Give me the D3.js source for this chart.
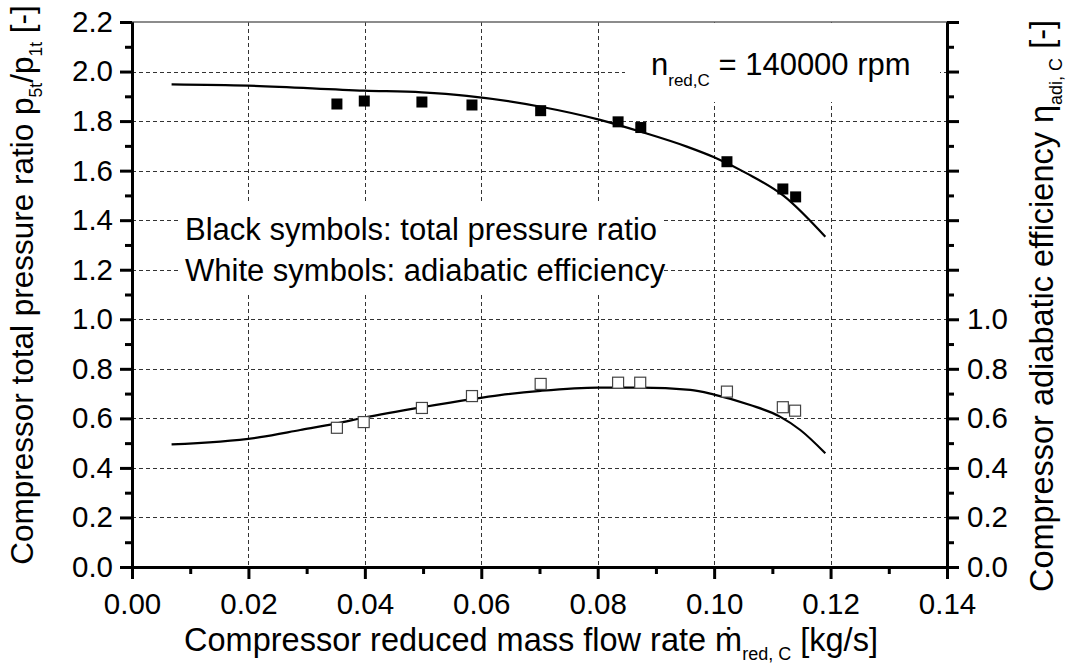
<!DOCTYPE html>
<html><head><meta charset="utf-8">
<script src="https://cdn.jsdelivr.net/npm/d3@7"></script>
<style>
html,body{margin:0;padding:0;background:#fff;}
svg{display:block;}
text{font-family:"Liberation Sans",Arial,sans-serif;fill:#000;}
</style></head>
<body>
<svg id="chart" width="1070" height="666"></svg>
<script>
// ---- data ----
const prMassFlow = [0.0352,0.0399,0.0498,0.0584,0.0702,0.0835,0.0874,0.1022,0.1118,0.1140];
const prValues   = [1.869,1.881,1.877,1.865,1.842,1.797,1.774,1.636,1.526,1.494];
const effMassFlow = [0.0352,0.0398,0.0498,0.0584,0.0702,0.0835,0.0873,0.1022,0.1118,0.1139];
const effValues   = [0.562,0.585,0.642,0.690,0.739,0.744,0.744,0.708,0.645,0.631];
const prFitX = [0.0068,0.0199,0.0399,0.0498,0.0575,0.0702,0.0804,0.0874,0.0953,0.1000,0.1056,0.1119,0.1191];
const prFitY = [1.948,1.943,1.923,1.916,1.902,1.858,1.805,1.757,1.697,1.654,1.589,1.499,1.333];
const effFitX = [0.0068,0.022,0.0289,0.0352,0.0399,0.0498,0.0584,0.0632,0.0702,0.080,0.0874,0.0959,0.100,0.1062,0.1113,0.1148,0.1191];
const effFitY = [0.495,0.524,0.553,0.580,0.603,0.645,0.678,0.694,0.711,0.724,0.724,0.715,0.696,0.654,0.607,0.553,0.459];
const xTicks = [0,0.02,0.04,0.06,0.08,0.10,0.12,0.14];
const xMinor = [0.01,0.03,0.05,0.07,0.09,0.11,0.13];
const yTicks = [0,0.2,0.4,0.6,0.8,1.0,1.2,1.4,1.6,1.8,2.0,2.2];
const yMinor = [0.1,0.3,0.5,0.7,0.9,1.1,1.3,1.5,1.7,1.9,2.1];
const yRightLabelled = [0,0.2,0.4,0.6,0.8,1.0];

// ---- layout ----
const L=132, R=947, T=22, B=567;
const svg = d3.select("#chart");
const x = d3.scaleLinear().domain([0,0.14]).range([L,R]);
const y = d3.scaleLinear().domain([0,2.2]).range([B,T]);
const y2 = d3.scaleLinear().domain([0,2.2]).range([B,T]);

// gridlines
const grid = svg.append("g").attr("stroke","#333").attr("stroke-width",1).attr("stroke-dasharray","4,3");
grid.selectAll("line.v").data(xTicks.slice(1,-1)).join("line")
  .attr("x1",d=>Math.round(x(d))+0.5).attr("x2",d=>Math.round(x(d))+0.5).attr("y1",T).attr("y2",B);
grid.selectAll("line.h").data(yTicks.slice(1,-1)).join("line")
  .attr("x1",L).attr("x2",R).attr("y1",d=>Math.round(y(d))+0.5).attr("y2",d=>Math.round(y(d))+0.5);

// white boxes behind text
svg.append("rect").attr("x",180).attr("y",204).attr("width",484).attr("height",89).attr("fill","#fff");
svg.append("rect").attr("x",625).attr("y",T+1).attr("width",315).attr("height",79).attr("fill","#fff");

// top frame
svg.append("line").attr("x1",L).attr("x2",R).attr("y1",T).attr("y2",T).attr("stroke","#666").attr("stroke-width",1.5);

// axes
function styleAxis(g){ g.selectAll("path.domain").attr("stroke","#000").attr("stroke-width",3);
  g.selectAll(".tick line").attr("stroke","#000").attr("stroke-width",3);
  g.selectAll(".tick text").style("font-size","29.5px").style("font-family","'Liberation Sans',Arial,sans-serif");}

const gl = svg.append("g").attr("transform",`translate(${L},0)`);
gl.call(d3.axisLeft(y).tickValues(yTicks).tickSize(12).tickSizeOuter(0).tickPadding(7).tickFormat(d3.format(".1f")));
styleAxis(gl);
const glm = svg.append("g").attr("transform",`translate(${L},0)`);
glm.call(d3.axisLeft(y).tickValues(yMinor).tickSize(7).tickSizeOuter(0).tickFormat(""));
styleAxis(glm);

const gr = svg.append("g").attr("transform",`translate(${R},0)`);
gr.call(d3.axisRight(y2).tickValues(yTicks).tickSize(12).tickSizeOuter(0).tickPadding(8)
  .tickFormat(d=> yRightLabelled.some(v=>Math.abs(v-d)<1e-9)? d3.format(".1f")(d):""));
styleAxis(gr);
const grm = svg.append("g").attr("transform",`translate(${R},0)`);
grm.call(d3.axisRight(y2).tickValues(yMinor).tickSize(7).tickSizeOuter(0).tickFormat(""));
styleAxis(grm);

const gb = svg.append("g").attr("transform",`translate(0,${B})`);
gb.call(d3.axisBottom(x).tickValues(xTicks).tickSize(12).tickSizeOuter(0).tickPadding(14).tickFormat(d3.format(".2f")));
styleAxis(gb);
const gbm = svg.append("g").attr("transform",`translate(0,${B})`);
gbm.call(d3.axisBottom(x).tickValues(xMinor).tickSize(7).tickSizeOuter(0).tickFormat(""));
styleAxis(gbm);

// fit curves
const line = d3.line().x(d=>x(d[0])).curve(d3.curveMonotoneX);
svg.append("path").datum(d3.zip(prFitX,prFitY)).attr("fill","none").attr("stroke","#000").attr("stroke-width",2.2)
  .attr("d", line.y(d=>y(d[1])));
svg.append("path").datum(d3.zip(effFitX,effFitY)).attr("fill","none").attr("stroke","#000").attr("stroke-width",2.2)
  .attr("d", line.y(d=>y2(d[1])));

// markers
const s=11;
svg.append("g").selectAll("rect").data(d3.zip(prMassFlow,prValues)).join("rect")
  .attr("x",d=>x(d[0])-s/2).attr("y",d=>y(d[1])-s/2).attr("width",s).attr("height",s).attr("fill","#000");
svg.append("g").selectAll("rect").data(d3.zip(effMassFlow,effValues)).join("rect")
  .attr("x",d=>x(d[0])-s/2).attr("y",d=>y2(d[1])-s/2).attr("width",s).attr("height",s)
  .attr("fill","#fff").attr("stroke","#444").attr("stroke-width",1.2);

// texts
const fs=31, tfs=32.5, sub=18;
svg.append("text").attr("x",185).attr("y",240).style("font-size",fs+"px").text("Black symbols: total pressure ratio");
svg.append("text").attr("x",185).attr("y",281).style("font-size",fs+"px").text("White symbols: adiabatic efficiency");

const an = svg.append("text").attr("x",651).attr("y",75).style("font-size",fs+"px");
an.append("tspan").text("n");
an.append("tspan").attr("dy",11).style("font-size",(sub-1)+"px").text("red,C");
an.append("tspan").attr("dy",-11).text(" = 140000 rpm");

// x title
const xt = svg.append("text").attr("x",531).attr("y",651).attr("text-anchor","middle").style("font-size",tfs+"px");
xt.append("tspan").text("Compressor reduced mass flow rate ṁ");
xt.append("tspan").attr("dy",9).style("font-size",sub+"px").text("red, C");
xt.append("tspan").attr("dy",-9).text(" [kg/s]");

// left title
const ylt = svg.append("text").attr("transform",`translate(33,285) rotate(-90)`).attr("text-anchor","middle").style("font-size","31.5px");
ylt.append("tspan").text("Compressor total pressure ratio p");
ylt.append("tspan").attr("dy",9).style("font-size","17.5px").text("5t");
ylt.append("tspan").attr("dy",-9).text("/p");
ylt.append("tspan").attr("dy",9).style("font-size","17.5px").text("1t");
ylt.append("tspan").attr("dy",-9).text(" [-]");

// right title
const yrt = svg.append("text").attr("transform",`translate(1053,306) rotate(-90)`).attr("text-anchor","middle").style("font-size",tfs+"px");
yrt.append("tspan").text("Compressor adiabatic efficiency η");
yrt.append("tspan").attr("dy",9).style("font-size",sub+"px").text("adi, C");
yrt.append("tspan").attr("dy",-9).text(" [-]");
</script>
</body></html>
